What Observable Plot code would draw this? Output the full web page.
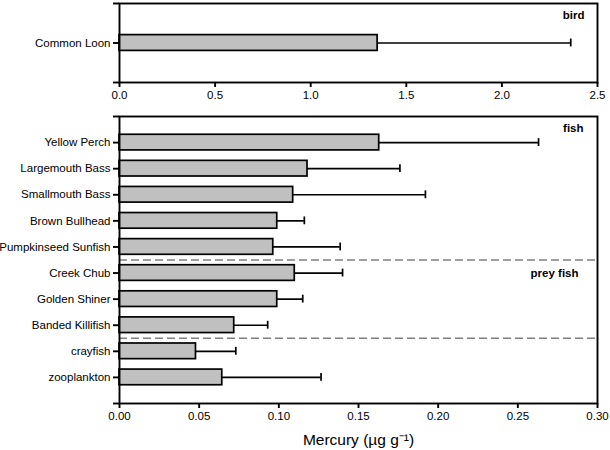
<!DOCTYPE html>
<html><head><meta charset="utf-8">
<script src="https://cdn.jsdelivr.net/npm/d3@7"></script>
<script src="https://cdn.jsdelivr.net/npm/@observablehq/plot@0.6"></script>
<style>
body{margin:0;background:#fff;font-family:"Liberation Sans",Arial,sans-serif}
#c{width:610px}
#c svg{display:block}
</style>
</head><body><div id="c"></div>
<script>
// ---- data ----
const birdNames = ["Common Loon"];
const birdMeans = [1.35];
const birdUpper = [2.36];
const birdTicks = [0, 0.5, 1.0, 1.5, 2.0, 2.5];

const fishNames = ["Yellow Perch","Largemouth Bass","Smallmouth Bass","Brown Bullhead","Pumpkinseed Sunfish","Creek Chub","Golden Shiner","Banded Killifish","crayfish","zooplankton"];
const fishMeans = [0.163, 0.118, 0.109, 0.099, 0.0965, 0.110, 0.099, 0.072, 0.048, 0.0645];
const fishUpper = [0.263, 0.176, 0.192, 0.116, 0.1385, 0.140, 0.115, 0.093, 0.073, 0.1265];
const fishGroups = ["fish","fish","fish","fish","fish","prey fish","prey fish","prey fish","other","other"];
const fishTicks = [0, 0.05, 0.10, 0.15, 0.20, 0.25, 0.30];

const fontFamily = "'Liberation Sans', Arial, Helvetica, sans-serif";

function panel({names, means, upper, xDomain, xTicks, fmt, height, marginTop, marginBottom, halfBar, halfCap, extra}) {
  const n = names.length;
  const rows = names.map((name, i) => ({name, i: i + 1, mean: means[i], hi: upper[i]}));
  const yTicks = d3.range(0, n + 2);
  return Plot.plot({
    width: 610, height, marginLeft: 119, marginRight: 13, marginTop, marginBottom,
    style: {fontFamily, fontSize: "11.5px", color: "#000", background: "#fff", overflow: "visible"},
    x: {domain: xDomain},
    y: {domain: [0, n + 1], reverse: true},
    marks: [
      Plot.ruleY(rows, {y: "i", x1: "mean", x2: "hi", stroke: "#000", strokeWidth: 1.7}),
      Plot.ruleX(rows, {x: "hi", y1: d => d.i - halfCap, y2: d => d.i + halfCap, stroke: "#000", strokeWidth: 1.7}),
      Plot.rect(rows, {x1: 0, x2: "mean", y1: d => d.i - halfBar, y2: d => d.i + halfBar, fill: "#c0c0c0", stroke: "#000", strokeWidth: 1.7}),
      ...extra,
      Plot.frame({stroke: "#000", strokeWidth: 1.9}),
      Plot.axisY({ticks: yTicks, tickFormat: t => names[t - 1] ?? "", tickSize: 6, tickPadding: 3, strokeWidth: 1.9, label: null, fontSize: 11.5}),
      Plot.axisX({ticks: xTicks, tickFormat: fmt, tickSize: 5, tickPadding: 3, strokeWidth: 1.9, label: null, fontSize: 11.5})
    ]
  });
}

const c = document.getElementById("c");

c.appendChild(panel({
  names: birdNames, means: birdMeans, upper: birdUpper,
  xDomain: [0, 2.5], xTicks: birdTicks, fmt: d3.format(".1f"),
  height: 110, marginTop: 3, marginBottom: 28, halfBar: 0.2, halfCap: 0.1,
  extra: [
    Plot.text(["bird"], {frameAnchor: "top-right", dx: -13, dy: 7, fontWeight: "bold", fontSize: 11.5})
  ]
}));

// group boundaries and label positions computed from groups
const dividers = [];
const groupStarts = [];
fishGroups.forEach((g, i) => {
  if (i > 0 && g !== fishGroups[i - 1]) dividers.push(i + 0.5);
  if (i === 0 || g !== fishGroups[i - 1]) groupStarts.push({g, i: i + 1});
});

c.appendChild(panel({
  names: fishNames, means: fishMeans, upper: fishUpper,
  xDomain: [0, 0.30], xTicks: fishTicks, fmt: d3.format(".2f"),
  height: 340, marginTop: 6, marginBottom: 47, halfBar: 0.3, halfCap: 0.15,
  extra: [
    Plot.ruleY(dividers, {stroke: "#808080", strokeWidth: 1.3, strokeDasharray: "8,4"}),
    Plot.text(groupStarts.filter(d => d.g === "fish"), {text: "g", frameAnchor: "top-right", dx: -14, dy: 7, fontWeight: "bold", fontSize: 11.5}),
    Plot.text(groupStarts.filter(d => d.g === "prey fish"), {text: "g", y: "i", frameAnchor: "right", dx: -19, fontWeight: "bold", fontSize: 11.5}),
    Plot.text(["Mercury (\u00b5g g\u207b\u00b9)"], {frameAnchor: "bottom", dy: 37, fontSize: 15.5, lineAnchor: "middle"})
  ]
}));
</script>
</body></html>
